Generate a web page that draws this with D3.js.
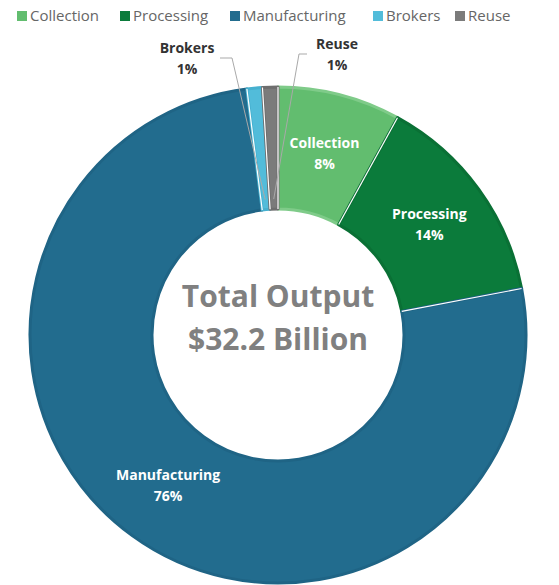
<!DOCTYPE html>
<html>
<head>
<meta charset="utf-8">
<script src="https://cdn.jsdelivr.net/npm/d3@7"></script>
<style>
  body { margin: 0; background: #fff; }
  svg text { font-family: "Open Sans", "DejaVu Sans", sans-serif; }
</style>
</head>
<body>
<div id="svg_div"><svg width="559" height="585"></svg></div>
<script>
// Share of total output by segment (percent)
var categories = ["Collection", "Processing", "Manufacturing", "Brokers", "Reuse"];
var shares = [8, 14, 76, 1, 1];
var colors = ["#62bd6f", "#0b7b3b", "#226c8e", "#52bcda", "#7b7b7b"];
var strokes = ["#7fcb89", "#0a7035", "#1f6485", "#46b0cf", "#6e6e6e"];
var centerLines = ["Total Output", "$32.2 Billion"];
// labels drawn outside for the thin slices
var outsideLabels = { "Brokers": [187, 48], "Reuse": [337, 44] };

var svg = d3.select("#svg_div").select("svg");
var cx = 278, cy = 335;
var outerR = 248, innerR = 126;

var data = categories.map(function(c, i) {
    return { name: c, value: shares[i], color: colors[i], stroke: strokes[i] };
});

var pie = d3.pie()
    .sort(null)
    .value(function(d) { return d.value; });

var arc = d3.arc()
    .innerRadius(innerR)
    .outerRadius(outerR);

var g = svg.append("g")
    .attr("transform", "translate(" + [cx, cy] + ")");

var arcs = pie(data);

g.selectAll(".slice")
    .data(arcs)
    .enter()
    .append("path")
    .attr("class", "slice")
    .attr("d", arc)
    .attr("fill", function(d) { return d.data.color; })
    .attr("stroke", function(d) { return d.data.stroke; })
    .attr("stroke-width", 3)
    .attr("stroke-linejoin", "round");

// white gaps between slices
g.selectAll(".gap")
    .data(arcs)
    .enter()
    .append("path")
    .attr("class", "gap")
    .attr("d", function(d) {
        var a = d.startAngle;
        return "M" + [innerR * Math.sin(a), -innerR * Math.cos(a)] +
            "L" + [outerR * Math.sin(a), -outerR * Math.cos(a)];
    })
    .attr("stroke", "#fff")
    .attr("stroke-width", 1.2);

// Labels inside the big slices
var inside = arcs.filter(function(d) { return !outsideLabels[d.data.name]; });
var labelG = g.selectAll(".inlabel")
    .data(inside)
    .enter()
    .append("g")
    .attr("class", "inlabel")
    .attr("transform", function(d) { return "translate(" + arc.centroid(d) + ")"; });

labelG.append("text")
    .attr("text-anchor", "middle")
    .attr("y", -6)
    .attr("fill", "#fff")
    .attr("font-size", 14)
    .attr("font-weight", "bold")
    .text(function(d) { return d.data.name; });

labelG.append("text")
    .attr("text-anchor", "middle")
    .attr("y", 15)
    .attr("fill", "#fff")
    .attr("font-size", 14)
    .attr("font-weight", "bold")
    .text(function(d) { return d.data.value + "%"; });

// Outside labels with leader lines
var outside = arcs.filter(function(d) { return outsideLabels[d.data.name]; });
outside.forEach(function(d) {
    var pos = outsideLabels[d.data.name];
    var mid = (d.startAngle + d.endAngle) / 2;
    var r = innerR + 10;
    var px = cx + r * Math.sin(mid), py = cy - r * Math.cos(mid);
    var left = pos[0] < cx;
    var sx = left ? pos[0] + 33 : pos[0] - 30;
    var ex = left ? sx + 12 : sx - 8;
    svg.append("polyline")
        .attr("points", [[sx, pos[1] + 10], [ex, pos[1] + 10], [px, py]].join(" "))
        .attr("fill", "none")
        .attr("stroke", "#a9a9a9")
        .attr("stroke-width", 1);
    svg.append("text")
        .attr("x", pos[0]).attr("y", pos[1] + 5)
        .attr("text-anchor", "middle")
        .attr("font-size", 14).attr("font-weight", "bold")
        .attr("fill", "#333")
        .text(d.data.name);
    svg.append("text")
        .attr("x", pos[0]).attr("y", pos[1] + 26)
        .attr("text-anchor", "middle")
        .attr("font-size", 14).attr("font-weight", "bold")
        .attr("fill", "#333")
        .text(d.data.value + "%");
});

// Center text
svg.selectAll(".center")
    .data(centerLines)
    .enter()
    .append("text")
    .attr("class", "center")
    .attr("x", cx)
    .attr("y", function(d, i) { return 307 + i * 43; })
    .attr("text-anchor", "middle")
    .attr("font-size", 30)
    .attr("font-weight", "bold")
    .attr("fill", "#808080")
    .text(function(d) { return d; });

// Legend
var legendX = [17, 120, 230, 373, 455];
var legend = svg.selectAll(".legend")
    .data(data)
    .enter()
    .append("g")
    .attr("class", "legend")
    .attr("transform", function(d, i) { return "translate(" + [legendX[i], 11] + ")"; });

legend.append("rect")
    .attr("width", 10)
    .attr("height", 10)
    .attr("fill", function(d) { return d.color; });

legend.append("text")
    .attr("x", 13)
    .attr("y", 10)
    .attr("font-size", 15)
    .attr("fill", "#666")
    .text(function(d) { return d.name; });
</script>
</body>
</html>
